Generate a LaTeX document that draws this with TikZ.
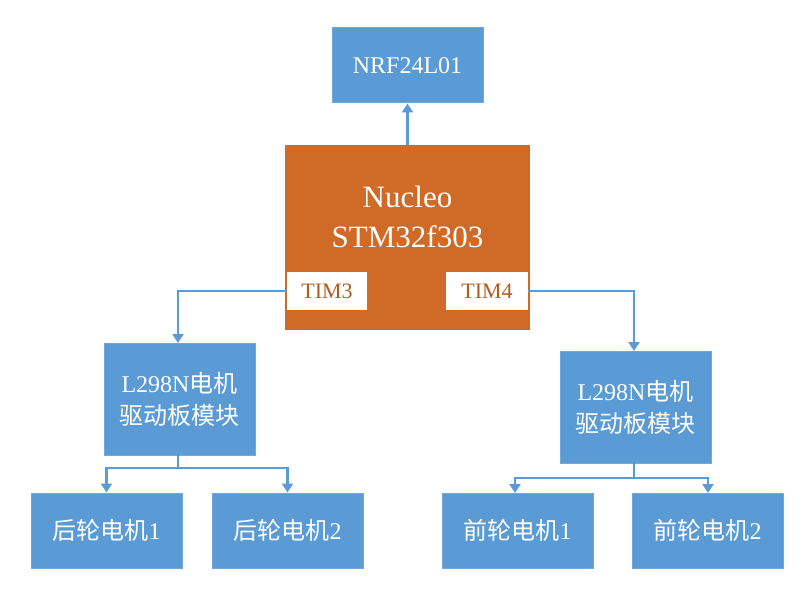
\documentclass[tikz,border=0pt]{standalone}
\usepackage{fontspec}
\setmainfont{Liberation Serif}
\newfontfamily\cjk{Noto Sans CJK SC}
\usetikzlibrary{arrows.meta}
\definecolor{bl}{HTML}{5B9BD5}
\definecolor{bll}{HTML}{6FA8DC}
\definecolor{org}{HTML}{D06A27}
\definecolor{tt}{HTML}{B35A1F}
\begin{document}
\begin{tikzpicture}[x=1pt,y=-1pt,
  box/.style={draw=bll,line width=1pt,fill=bl,text=white,font=\fontsize{24}{32}\selectfont,align=center,inner sep=0},
  tim/.style={fill=white,text=tt,font=\fontsize{22}{24}\selectfont,inner sep=0},
  con/.style={draw=bl,line width=2.2pt},
  arr/.style={con,-{Triangle[length=9pt,width=11pt]}}]
\useasboundingbox (0,0) rectangle (809,604);
\node[box,minimum width=151,minimum height=75] (nrf) at (407.5,65.5) {NRF24L01};
\node[fill=org,minimum width=245,minimum height=185,inner sep=0,text=white,font=\fontsize{31}{40}\selectfont] (nuc) at (407.5,237.5) {};
\node[text=white,font=\fontsize{31}{40}\selectfont,align=center,inner sep=0] (nt) at (407.5,217) {Nucleo\\STM32f303};
\node[tim,minimum width=80,minimum height=38] (t3) at (327,291) {TIM3};
\node[tim,minimum width=82,minimum height=38] (t4) at (487,291) {TIM4};
\node[box,minimum width=151,minimum height=112] (la) at (179.5,399) {L298N{\cjk 电机}\\{\cjk 驱动板模块}};
\node[box,minimum width=151,minimum height=112] (lb) at (635.5,407) {L298N{\cjk 电机}\\{\cjk 驱动板模块}};
\node[box,minimum width=151,minimum height=75] (m1) at (106.5,530.5) {{\cjk 后轮电机}1};
\node[box,minimum width=151,minimum height=75] (m2) at (287.5,530.5) {{\cjk 后轮电机}2};
\node[box,minimum width=151,minimum height=75] (m3) at (517.5,530.5) {{\cjk 前轮电机}1};
\node[box,minimum width=151,minimum height=75] (m4) at (707.5,530.5) {{\cjk 前轮电机}2};
\coordinate (ja) at (178,468);
\coordinate (jb) at (634,478);
\draw[arr] (nuc.north) -- (nrf.south);
\draw[arr] (t3.west) -| (178,343);
\draw[arr] (t4.east) -| (634,351);
\draw[con] (178,455) -- (ja);
\draw[arr] (ja) -| (m1.north);
\draw[arr] (ja) -| (m2.north);
\draw[con] (634,463) -- (jb);
\draw[arr] (jb) -| (515,493);
\draw[arr] (jb) -| (708,493);
\end{tikzpicture}
\end{document}
